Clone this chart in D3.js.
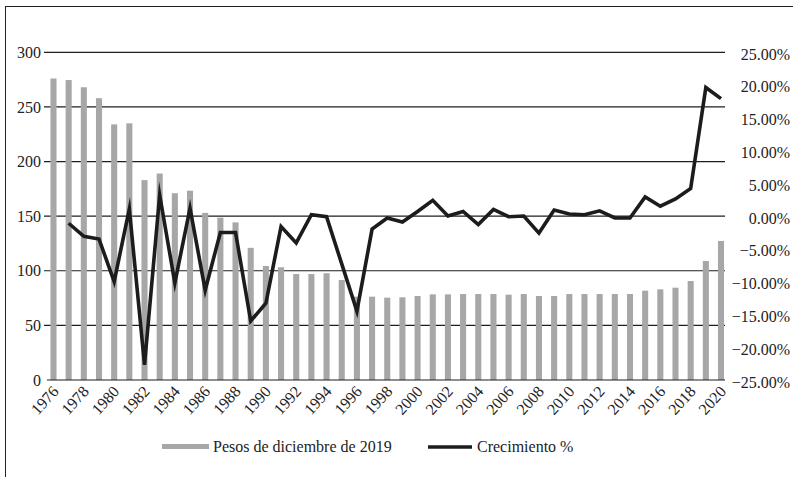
<!DOCTYPE html>
<html>
<head>
<meta charset="utf-8">
<script src="https://cdn.jsdelivr.net/npm/d3@7"></script>
<style>
  body { margin: 0; background: #fff; }
</style>
</head>
<body>
<svg id="chart" width="793" height="477"></svg>
<script>
const years = d3.range(1976, 2021)
const pesos = [276, 274.6, 268, 258, 234, 235, 183, 189, 171, 173.3,
  153, 148.6, 144.3, 121, 104.4, 103.2, 97, 97, 97.7, 91.5,
  76.3, 76.3, 75.4, 75.7, 76.9, 78.4, 78.4, 78.7, 78.7, 78.7,
  78.1, 78.7, 76.9, 76.9, 78.7, 78.7, 78.7, 78.7, 78.7, 81.8,
  83, 84.5, 90.6, 108.9, 127.3]
const crecimiento = [null, -0.8, -2.8, -3.2, -9.7, 1.4, -22.4, 3.5, -9.9, 1.5,
  -11.0, -2.2, -2.2, -15.7, -13.0, -1.3, -3.8, 0.5, 0.2, -7.0,
  -14.2, -1.7, 0.0, -0.6, 1.0, 2.7, 0.3, 1.0, -1.0, 1.3,
  0.2, 0.3, -2.3, 1.2, 0.6, 0.5, 1.1, 0.0, 0.0, 3.2,
  1.8, 2.9, 4.5, 19.9, 18.2]
const leftTicks = [0, 50, 100, 150, 200, 250, 300]
const rightTicks = [-25, -20, -15, -10, -5, 0, 5, 10, 15, 20, 25]
const labelYears = years.filter(y => y % 2 === 0)

const svg = d3.select('#chart')
  .attr('font-family', "'Liberation Serif', 'DejaVu Serif', serif")
  .style('font-family', "'Liberation Serif', 'DejaVu Serif', serif")
const barColor = '#a7a7a9'
const lineColor = '#1c1c1c'
const textColor = '#222'

// outer frame (only top and left edges fall inside the picture)
svg.append('rect')
  .attr('x', 5.5).attr('y', 6.5)
  .attr('width', 800).attr('height', 500)
  .style('fill', 'none').style('stroke', '#222').style('stroke-width', 1)

const x = d3.scaleBand()
  .domain(years)
  .range([45.9, 728.6])
  .paddingInner(0.6)
  .paddingOuter(0.3)

const yLeft = d3.scaleLinear().domain([0, 300]).range([380, 52.3])
const yRight = d3.scaleLinear().domain([-25, 25]).range([382, 54])

// gridlines
svg.append('g').attr('class', 'grid')
  .selectAll('line')
  .data(leftTicks.filter(d => d > 0))
  .enter().append('line')
  .attr('x1', 44).attr('x2', 725)
  .attr('y1', d => yLeft(d)).attr('y2', d => yLeft(d))
  .style('stroke', '#1e1e1e').style('stroke-width', 1.2)

// bars
svg.append('g').attr('class', 'bars')
  .selectAll('rect')
  .data(years.map((y, i) => ({ year: y, value: pesos[i] })))
  .enter().append('rect')
  .attr('x', d => x(d.year))
  .attr('width', x.bandwidth())
  .attr('y', d => yLeft(d.value))
  .attr('height', d => yLeft(0) - yLeft(d.value))
  .style('fill', barColor)

// base axis line
svg.append('line')
  .attr('x1', 47).attr('x2', 725)
  .attr('y1', yLeft(0)).attr('y2', yLeft(0))
  .style('stroke', '#1e1e1e').style('stroke-width', 1.2)

// growth line
const lineData = years.map((y, i) => ({ year: y, value: crecimiento[i] }))
  .filter(d => d.value !== null)
const line = d3.line()
  .x(d => x(d.year) + x.bandwidth() / 2)
  .y(d => yRight(d.value))

svg.append('path')
  .datum(lineData)
  .attr('d', line)
  .style('fill', 'none')
  .style('stroke', lineColor)
  .style('stroke-width', 3.6)
  .style('stroke-linejoin', 'miter')
  .style('stroke-miterlimit', 10)

// left axis labels
svg.append('g').attr('class', 'y-left')
  .selectAll('text')
  .data(leftTicks)
  .enter().append('text')
  .attr('x', 41)
  .attr('y', d => yLeft(d))
  .attr('dy', '0.35em')
  .style('text-anchor', 'end')
  .style('font-size', '16px')
  .style('fill', textColor)
  .text(d => d)

// right axis labels
svg.append('g').attr('class', 'y-right')
  .selectAll('text')
  .data(rightTicks)
  .enter().append('text')
  .attr('x', 790)
  .attr('y', d => yRight(d))
  .attr('dy', '0.35em')
  .style('text-anchor', 'end')
  .style('font-size', '16px')
  .style('fill', textColor)
  .text(d => d3.format('.2f')(d) + '%')

// x labels
svg.append('g').attr('class', 'x-labels')
  .selectAll('text')
  .data(labelYears)
  .enter().append('text')
  .attr('transform', d => `translate(${x(d) + x.bandwidth() / 2 + 6}, 392) rotate(-48)`)
  .style('text-anchor', 'end')
  .style('font-size', '16px')
  .style('fill', textColor)
  .text(d => d)

// legend
const legend = svg.append('g').attr('class', 'legend')
legend.append('rect')
  .attr('x', 162).attr('y', 444)
  .attr('width', 47).attr('height', 5)
  .style('fill', barColor)
legend.append('text')
  .attr('x', 213).attr('y', 452)
  .style('font-size', '16px')
  .style('fill', textColor)
  .text('Pesos de diciembre de 2019')
legend.append('line')
  .attr('x1', 428).attr('x2', 472)
  .attr('y1', 447).attr('y2', 447)
  .style('stroke', lineColor).style('stroke-width', 3.6)
legend.append('text')
  .attr('x', 477).attr('y', 452)
  .style('font-size', '16px')
  .style('fill', textColor)
  .text('Crecimiento %')
</script>
</body>
</html>
